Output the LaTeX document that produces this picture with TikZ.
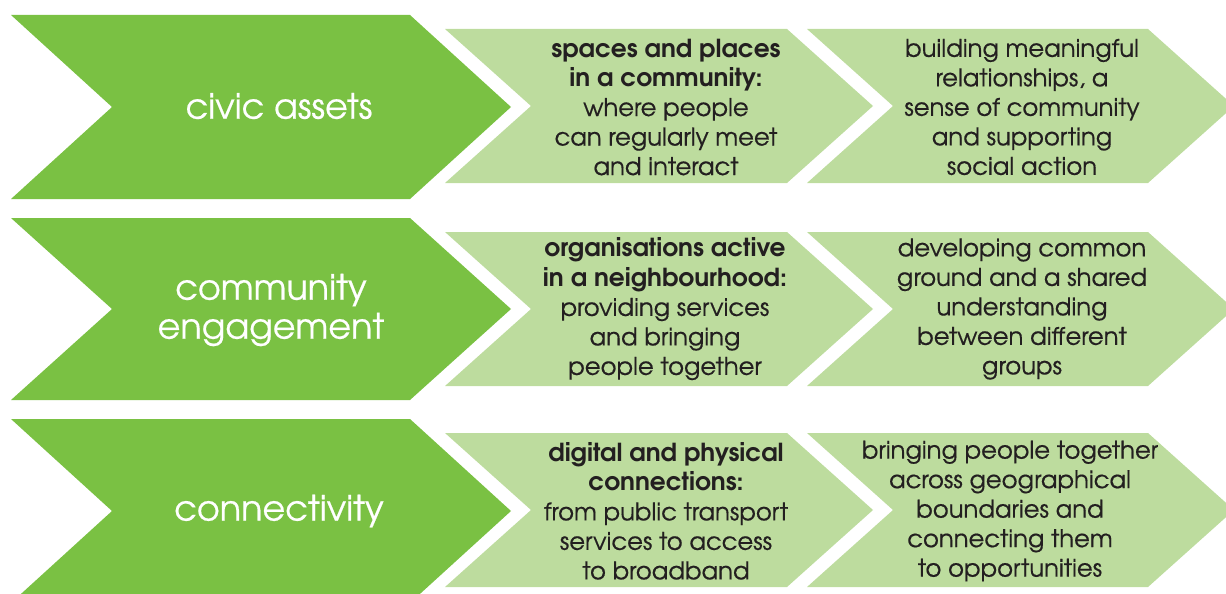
\documentclass[tikz,border=0pt]{standalone}
\usepackage{fontspec}
\setmainfont{TeX Gyre Adventor}
\newfontfamily\regfont[FakeBold=0.5]{TeX Gyre Adventor}
\definecolor{darkgr}{RGB}{122,193,67}
\definecolor{lightgr}{RGB}{189,220,158}
\definecolor{textc}{RGB}{35,31,32}
\newcommand\mychev[6]{\fill[#6] (#1,#2-#4) -- (#3,#2-#4) -- (#3+#5,#2) -- (#3,#2+#4) -- (#1,#2+#4) -- (#1+#5,#2) -- cycle;}
\tikzset{
  titletext/.style={text=white, align=center, inner sep=0pt, font=\regfont\fontsize{35}{39}\selectfont},
  bodytext/.style={text=textc, align=center, inner sep=0pt, font=\regfont\fontsize{24.3}{29.5}\selectfont}
}
\newcommand\bl[1]{{\normalfont\fontsize{24.8}{29.5}\selectfont\bfseries #1}}
\begin{document}
\begin{tikzpicture}[x=1pt,y=-1pt]
\useasboundingbox (0,0) rectangle (1226,594);
\clip (0,0) rectangle (1226,594);
% row 1
\mychev{11}{107}{410}{92}{101}{darkgr}
\mychev{445}{106}{787}{77}{86}{lightgr}
\mychev{807}{106}{1148}{77}{86}{lightgr}
% row 2
\mychev{11}{309}{410}{91}{101}{darkgr}
\mychev{445}{309}{787}{77}{86}{lightgr}
\mychev{807}{309}{1148}{77}{86}{lightgr}
% row 3
\mychev{11}{511}{410}{92}{101}{darkgr}
\mychev{445}{510}{787}{77}{86}{lightgr}
\mychev{807}{510}{1148}{77}{86}{lightgr}
% texts
\node[titletext] (t1) at (279,106) {civic assets};
\node[titletext] (t2) at (271,310) {community\\engagement};
\node[titletext] (t3) at (279,511) {connectivity};
\node[bodytext] (a1) at (666,107) {\bl{spaces and places}\\\bl{in a community:}\\where people\\can regularly meet\\and interact};
\node[bodytext] (b1) at (1022,107) {building meaningful\\relationships, a\\sense of community\\and supporting\\social action};
\node[bodytext] (a2) at (665,309) {\bl{organisations active}\\\bl{in a neighbourhood:}\\providing services\\and bringing\\people together};
\node[bodytext] (b2) at (1022,309) {developing common\\ground and a shared\\understanding\\between different\\groups};
\node[bodytext] (a3) at (666,511) {\bl{digital and physical}\\\bl{connections:}\\from public transport\\services to access\\to broadband};
\node[bodytext] (b3) at (1010,511) {bringing people together\\across geographical\\boundaries and\\connecting them\\to opportunities};
\end{tikzpicture}
\end{document}
